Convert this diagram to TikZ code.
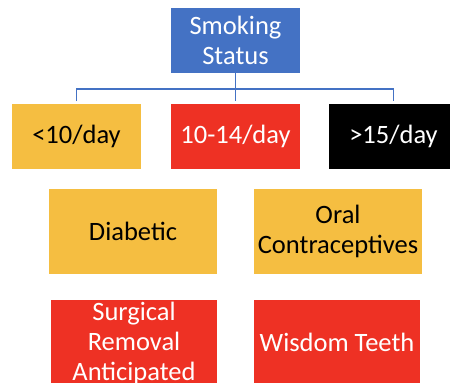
\documentclass[tikz,border=0pt]{standalone}
\usepackage{fontspec}
\setmainfont{Carlito}
\definecolor{cblue}{HTML}{4472C4}
\definecolor{cyel}{HTML}{F5BE41}
\definecolor{cred}{HTML}{EE3124}
\begin{document}
\begin{tikzpicture}[x=1pt,y=-1pt,
  box/.style={draw=none,inner sep=0pt,outer sep=0pt,rectangle},
  sbox/.style={box,minimum width=129pt,minimum height=65pt},
  bbox/.style={box,minimum width=168pt,minimum height=85pt},
  rbox/.style={box,minimum width=166pt,minimum height=84pt},
  lbl/.style={inner sep=0pt,align=center,font=\fontsize{26.5}{30}\selectfont},
  conn/.style={draw=cblue,line width=1.5pt}]
\useasboundingbox (0,0) rectangle (450,383);
\clip (0,0) rectangle (450,383);
% top
\node[sbox,fill=cblue] (s) at (235.5,40.5) {};
\node[lbl,text=white] (st) at (s.center) {Smoking\\Status};
% row 2
\node[sbox,fill=cyel] (b1) at (76.5,136.5) {};
\node[lbl,text=black] (t1) at (b1.center) {<10/day};
\node[sbox,fill=cred] (b2) at (235.5,136.5) {};
\node[lbl,text=white] (t2) at (b2.center) {10-14/day};
\node[sbox,fill=black] (b3) at (393.5,136.5) {};
\node[lbl,text=white] (t3) at (b3.center) {>15/day};
% row 3
\node[bbox,fill=cyel] (d) at (133,231.5) {};
\node[lbl,text=black] (td) at (d.center) {Diabetic};
\node[bbox,fill=cyel] (o) at (338,231.5) {};
\node[lbl,text=black] (to) at (o.center) {Oral\\Contraceptives};
% row 4
\node[rbox,fill=cred] (sr) at (134,342) {};
\node[lbl,text=white] (tsr) at ([yshift=-1.5pt]sr.center) {Surgical\\Removal\\Anticipated};
\node[rbox,fill=cred] (w) at (337,342) {};
\node[lbl,text=white] (tw) at (w.center) {Wisdom Teeth};
% connectors
\coordinate (j) at (235.5,89);
\draw[conn] (s.south) -- ([yshift=3pt]b2.north);
\draw[conn] ([yshift=3pt]b1.north) |- (j) -| ([yshift=3pt]b3.north);
\end{tikzpicture}
\end{document}
